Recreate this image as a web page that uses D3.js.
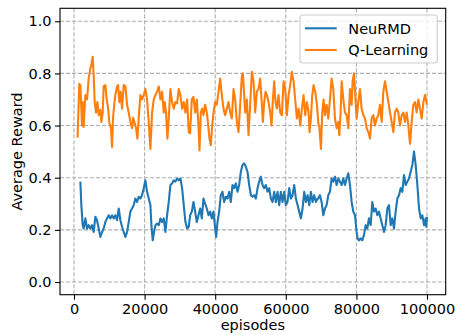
<!DOCTYPE html>
<html>
<head>
<meta charset="utf-8">
<script src="https://cdn.jsdelivr.net/npm/d3@7"></script>
<style>
  body { margin: 0; background: #fff; }
  svg { display: block; }
  text { font-family: "DejaVu Sans", sans-serif; fill: #000; }
</style>
</head>
<body>
<div id="chart"></div>
<script>
//Datos
const seriesNames = ['NeuRMD', 'Q-Learning'];
const xTicks = [0, 20000, 40000, 60000, 80000, 100000];
const yTicks = [0.0, 0.2, 0.4, 0.6, 0.8, 1.0];

//NeuRMD
const neuEpisodes = [
  1800, 2080, 2460, 2740, 3220, 3690, 4160, 4630, 5110, 5580,
  6050, 6520, 7000, 7470, 7940, 8410, 8890, 9360, 9830, 10300,
  10780, 11250, 11720, 12190, 12670, 13140, 13610, 14080, 14560, 15030,
  15500, 15970, 16450, 16920, 17390, 17860, 18340, 18810, 19280, 19750,
  20230, 20700, 21170, 21640, 21930, 22300, 22680, 23060, 23530, 24010,
  24480, 24950, 25420, 25900, 26370, 26840, 27310, 27790, 28260, 28730,
  29200, 29680, 30150, 30620, 31090, 31570, 32040, 32510,
  32900, 33370, 33850, 34320, 34790, 35260, 35740, 36210, 36680, 37150,
  37630, 38100, 38570, 39040, 39520, 39990, 40270, 40650, 41120, 41590,
  42070, 42540, 43010, 43480, 43960, 44430, 44900, 45370, 45850, 46320,
  46790, 47260, 47740, 48210, 48680, 49150, 49630, 50100, 50570, 51040,
  51520, 51990, 52460, 52930, 53410, 53880, 54350, 54820, 55300, 55770,
  56240, 56710, 57190, 57660, 58130, 58600, 59080, 59550, 60020, 60490,
  60970, 61440, 61910, 62380, 62860, 63330, 63800, 64270, 64750, 65220,
  65690, 66160, 66640, 67110, 67580, 68050, 68530, 69000,
  69200, 69670, 70150, 70620, 71090, 71560, 72040, 72510, 72980, 73450,
  73930, 74400, 74870, 75340, 75820, 76290, 76760, 77230, 77710, 78180,
  78650, 79120, 79600, 80070, 80350, 80730, 81200, 81670, 82150, 82620,
  83090, 83560, 84040, 84510, 84980, 85450, 85930, 86400, 86870, 87340,
  87820, 88290, 88760, 89230, 89710, 90180, 90650, 91120, 91600, 92070,
  92540, 93010, 93490, 93960, 94430, 94900, 95380, 95850, 96320, 96790,
  97270, 97740, 98210, 98680, 99160, 99630, 99800, 100000
];
const neuReward = [
  0.385, 0.295, 0.218, 0.205, 0.244, 0.205, 0.218, 0.205, 0.218, 0.192,
  0.25, 0.237, 0.205, 0.173, 0.192, 0.205, 0.23, 0.244, 0.256, 0.244,
  0.256, 0.244, 0.256, 0.237, 0.282, 0.237, 0.212, 0.192, 0.173, 0.192,
  0.23, 0.27, 0.282, 0.295, 0.32, 0.307, 0.327, 0.32, 0.333, 0.36,
  0.39, 0.346, 0.32, 0.295, 0.218, 0.16, 0.192, 0.218, 0.224, 0.218,
  0.244, 0.23, 0.244, 0.192, 0.256, 0.307, 0.372, 0.378, 0.39, 0.385,
  0.397, 0.39, 0.397, 0.36, 0.295, 0.23, 0.205, 0.212,
  0.256, 0.27, 0.307, 0.27, 0.23, 0.256, 0.282, 0.244, 0.32, 0.30,
  0.282, 0.256, 0.27, 0.244, 0.27, 0.205, 0.173, 0.23, 0.27, 0.333,
  0.346, 0.307, 0.327, 0.32, 0.346, 0.307, 0.372, 0.36, 0.378, 0.346,
  0.372, 0.423, 0.449, 0.455, 0.442, 0.423, 0.372, 0.333, 0.327, 0.333,
  0.32, 0.36, 0.385, 0.404, 0.372, 0.36, 0.372, 0.346, 0.36, 0.32,
  0.307, 0.346, 0.307, 0.346, 0.295, 0.346, 0.307, 0.346, 0.295, 0.307,
  0.36, 0.32, 0.333, 0.372, 0.32, 0.295, 0.27, 0.244, 0.282, 0.346,
  0.307, 0.333, 0.295, 0.346, 0.307, 0.333, 0.307, 0.32,
  0.32, 0.333, 0.307, 0.256, 0.282, 0.295, 0.333, 0.346, 0.397, 0.385,
  0.404, 0.372, 0.397, 0.385, 0.372, 0.397, 0.372, 0.397, 0.417, 0.372,
  0.307, 0.27, 0.256, 0.192, 0.167, 0.16, 0.167, 0.16, 0.18, 0.218,
  0.205, 0.244, 0.218, 0.307, 0.27, 0.282, 0.256, 0.27, 0.244, 0.218,
  0.192, 0.218, 0.282, 0.295, 0.218, 0.244, 0.205, 0.27, 0.32, 0.333,
  0.36, 0.346, 0.41, 0.372, 0.385, 0.397, 0.423, 0.449, 0.50, 0.449,
  0.372, 0.282, 0.244, 0.256, 0.218, 0.244, 0.212, 0.25
];

//Q-Learning
const qEpisodes = [
  1000, 1510, 1800, 2270, 2460, 2740, 3220, 3690, 4160, 4630,
  4920, 5290, 5580, 5860, 6240, 6620, 7000, 7470, 7750, 8130,
  8410, 8890, 9260, 9640, 10020, 10490, 10780, 11060, 11440, 11720,
  12190, 12480, 12850, 13230, 13610, 14080, 14560, 15030, 15500, 15970,
  16450, 16730, 17110, 17580, 17960, 18340, 18810, 19280, 19750, 20230,
  20700, 21170, 21640, 22120, 22590, 23060, 23530, 24010, 24480, 24950,
  25420, 25710, 26080, 26460, 26840, 27310, 27790, 28260, 28730, 29200,
  29680, 30150, 30620, 31090, 31570, 32040, 32510, 32890,
  33370, 33850, 34320, 34790, 35260, 35550, 35920, 36300, 36680, 37150,
  37630, 38100, 38380, 38760, 39140, 39520, 39990, 40460, 40930, 41410,
  41880, 42350, 42820, 43300, 43770, 44240, 44710, 45190, 45660, 46130,
  46600, 47080, 47550, 47830, 48210, 48490, 48970, 49440, 49910, 50380,
  50860, 51330, 51800, 52270, 52750, 53220, 53500, 53880, 54260, 54640,
  55110, 55580, 55960, 56340, 56710, 57090, 57470, 57940, 58420, 58890,
  59360, 59830, 60310, 60780, 61250, 61720, 62200, 62670, 63140, 63610,
  64090, 64560, 65030, 65500, 65980, 66450, 66730, 67110, 67490, 67870,
  68340, 68810, 69280,
  69480, 69960, 70330, 70710, 71090, 71560, 72040, 72510, 72980, 73450,
  73930, 74400, 74870, 75150, 75530, 75820, 76290, 76760, 77230, 77710,
  78180, 78650, 78930, 79310, 79600, 80070, 80540, 81010, 81490, 81960,
  82430, 82900, 83380, 83850, 84320, 84790, 85270, 85740, 86210, 86680,
  87160, 87630, 88100, 88570, 89050, 89520, 89990, 90460, 90940, 91410,
  91880, 92350, 92830, 93300, 93770, 94240, 94720, 95190, 95660, 96130,
  96610, 97080, 97550, 98020, 98500, 98970, 99440, 100000
];
const qReward = [
  0.553, 0.76, 0.755, 0.60, 0.69, 0.595, 0.717, 0.70, 0.78, 0.82,
  0.832, 0.864, 0.79, 0.69, 0.65, 0.69, 0.64, 0.66, 0.614, 0.65,
  0.75, 0.755, 0.70, 0.67, 0.61, 0.59, 0.518, 0.63, 0.685, 0.717,
  0.75, 0.755, 0.69, 0.73, 0.665, 0.755, 0.75, 0.68, 0.65, 0.614,
  0.59, 0.63, 0.614, 0.59, 0.55, 0.63, 0.717, 0.70, 0.717, 0.74,
  0.70, 0.614, 0.51, 0.65, 0.70, 0.717, 0.73, 0.75, 0.70, 0.73,
  0.65, 0.69, 0.65, 0.55, 0.627, 0.74, 0.69, 0.665, 0.69, 0.685,
  0.74, 0.717, 0.665, 0.69, 0.65, 0.70, 0.575, 0.57,
  0.70, 0.71, 0.65, 0.70, 0.60, 0.505, 0.65, 0.665, 0.64, 0.68,
  0.65, 0.59, 0.55, 0.525, 0.60, 0.65, 0.69, 0.68, 0.73, 0.78,
  0.717, 0.665, 0.64, 0.665, 0.69, 0.65, 0.627, 0.74, 0.70, 0.614,
  0.575, 0.68, 0.79, 0.80, 0.717, 0.65, 0.70, 0.563, 0.68, 0.806,
  0.77, 0.65, 0.73, 0.74, 0.78, 0.68, 0.614, 0.69, 0.73, 0.717,
  0.69, 0.65, 0.60, 0.70, 0.77, 0.69, 0.665, 0.717, 0.65, 0.64,
  0.77, 0.74, 0.64, 0.717, 0.755, 0.806, 0.77, 0.70, 0.627, 0.665,
  0.60, 0.665, 0.717, 0.64, 0.69, 0.65, 0.575, 0.627, 0.717, 0.755,
  0.73, 0.68, 0.60,
  0.60, 0.51, 0.65, 0.70, 0.64, 0.68, 0.627, 0.70, 0.78, 0.74,
  0.627, 0.59, 0.614, 0.563, 0.65, 0.77, 0.70, 0.65, 0.64, 0.59,
  0.74, 0.68, 0.77, 0.80, 0.73, 0.627, 0.69, 0.74, 0.665, 0.64,
  0.627, 0.59, 0.575, 0.55, 0.627, 0.64, 0.60, 0.627, 0.64, 0.68,
  0.614, 0.73, 0.77, 0.73, 0.69, 0.65, 0.614, 0.575, 0.65, 0.665,
  0.65, 0.60, 0.64, 0.65, 0.614, 0.65, 0.60, 0.53, 0.614, 0.68,
  0.69, 0.65, 0.70, 0.665, 0.627, 0.69, 0.717, 0.68
];

//Colores (matplotlib por defecto)
const COLOR_BLUE = '#1f77b4', COLOR_ORANGE = '#ff7f0e';

const W = 457, H = 335;
let margin = {top: 8.3, right: 11.3, bottom: 40.3, left: 60},
    width = W - margin.left - margin.right,
    height = H - margin.top - margin.bottom;

let svg = d3.select('#chart')
  .append('svg')
    .attr('width', W)
    .attr('height', H);

let chart = svg.append('g')
  .attr('transform', 'translate(' + margin.left + ',' + margin.top + ')');

//Escalas
let x = d3.scaleLinear().domain([-3966, 105297]).range([0, width]);
let y = d3.scaleLinear().domain([-0.0486, 1.0497]).range([height, 0]);

//Rejilla
let grid = chart.append('g');
grid.selectAll('.gx').data(xTicks).enter().append('line')
  .attr('x1', d => x(d)).attr('x2', d => x(d))
  .attr('y1', 0).attr('y2', height);
grid.selectAll('.gy').data(yTicks).enter().append('line')
  .attr('x1', 0).attr('x2', width)
  .attr('y1', d => y(d)).attr('y2', d => y(d));
grid.selectAll('line')
  .attr('stroke', '#b0b0b0')
  .attr('stroke-width', 1.1)
  .attr('stroke-dasharray', '4.2,1.8');

//Líneas
let line = d3.line().x(d => x(d[0])).y(d => y(d[1]));
let neuData = neuEpisodes.map((e, i) => [e, neuReward[i]]);
let qData = qEpisodes.map((e, i) => [e, qReward[i]]);

chart.append('path').datum(neuData)
  .attr('d', line).attr('fill', 'none')
  .attr('stroke', COLOR_BLUE).attr('stroke-width', 2.1)
  .attr('stroke-linejoin', 'round');
chart.append('path').datum(qData)
  .attr('d', line).attr('fill', 'none')
  .attr('stroke', COLOR_ORANGE).attr('stroke-width', 2.1)
  .attr('stroke-linejoin', 'round');

//Ejes
let xAxis = chart.append('g')
  .attr('transform', 'translate(0,' + height + ')')
  .call(d3.axisBottom(x).tickValues(xTicks).tickFormat(d3.format('d')).tickSize(5).tickPadding(4.5));
let yAxis = chart.append('g')
  .call(d3.axisLeft(y).tickValues(yTicks).tickFormat(d3.format('.1f')).tickSize(5).tickPadding(3.5));

[xAxis, yAxis].forEach(function(a) {
  a.select('.domain').remove();
  a.selectAll('line').attr('stroke', '#000').attr('stroke-width', 1.1);
  a.selectAll('text').style('font-size', '14.5px').attr('fill', '#000');
});

//Marco
chart.append('rect')
  .attr('width', width).attr('height', height)
  .attr('fill', 'none').attr('stroke', '#000').attr('stroke-width', 1.1);

//Etiquetas de ejes
svg.append('text')
  .attr('x', margin.left + width / 2).attr('y', 330)
  .attr('text-anchor', 'middle').style('font-size', '14.5px')
  .text('episodes');
svg.append('text')
  .attr('transform', 'translate(21.5,' + (margin.top + height / 2) + ') rotate(-90)')
  .attr('text-anchor', 'middle').style('font-size', '14.5px')
  .text('Average Reward');

//Leyenda
let legend = svg.append('g').attr('transform', 'translate(300,15)');
legend.append('rect')
  .attr('width', 137.3).attr('height', 48).attr('rx', 3)
  .attr('fill', '#fff').attr('fill-opacity', 0.8)
  .attr('stroke', '#cccccc').attr('stroke-width', 1.1);
[COLOR_BLUE, COLOR_ORANGE].forEach(function(c, i) {
  let ly = 13.3 + i * 21.7;
  legend.append('line')
    .attr('x1', 5).attr('x2', 36.7).attr('y1', ly).attr('y2', ly)
    .attr('stroke', c).attr('stroke-width', 2.1);
  legend.append('text')
    .attr('x', 48.3).attr('y', ly + 5.2)
    .style('font-size', '14.5px')
    .text(seriesNames[i]);
});
</script>
</body>
</html>
